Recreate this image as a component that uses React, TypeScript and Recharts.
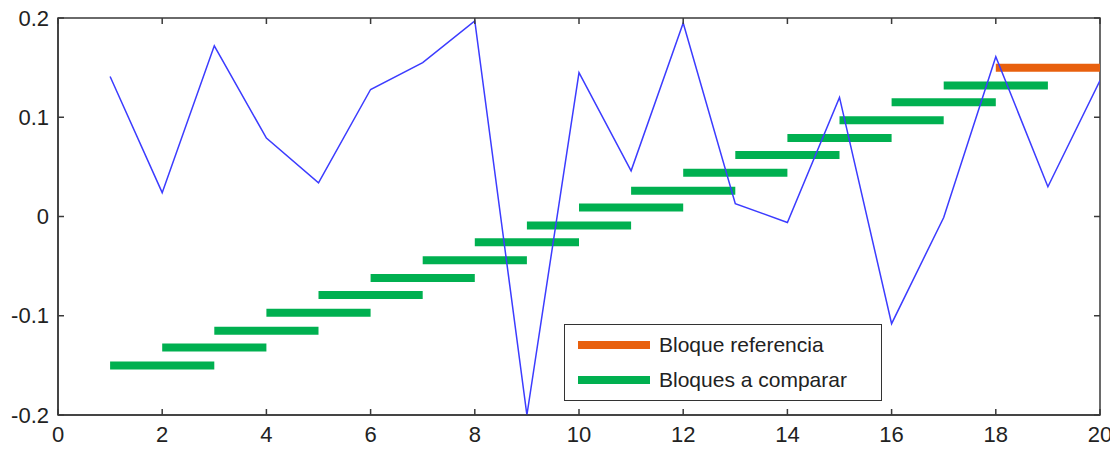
import React from "react";
import { ComposedChart, Line, XAxis, YAxis, ReferenceArea } from "recharts";

// señal comparada (x = 1..20)
const signalX = [1, 2, 3, 4, 5, 6, 7, 8, 9, 10, 11, 12, 13, 14, 15, 16, 17, 18, 19, 20];
const signalY = [
  0.141, 0.024, 0.172, 0.079, 0.034, 0.128, 0.155, 0.197, -0.2, 0.145,
  0.046, 0.195, 0.013, -0.006, 0.12, -0.108, -0.001, 0.161, 0.03, 0.137,
];

// bloques a comparar: inicio y nivel (cada bloque cubre 2 unidades)
const blockStart = [1, 2, 3, 4, 5, 6, 7, 8, 9, 10, 11, 12, 13, 14, 15, 16, 17];
const blockLevel = [
  -0.15, -0.132, -0.115, -0.097, -0.079, -0.062, -0.044, -0.026, -0.009,
  0.009, 0.026, 0.044, 0.062, 0.079, 0.097, 0.115, 0.132,
];
const blockWidth = 2;

// bloque referencia
const refStart = 18;
const refLevel = 0.15;

const xTicks = [0, 2, 4, 6, 8, 10, 12, 14, 16, 18, 20];
const yTicks = [-0.2, -0.1, 0, 0.1, 0.2];

const BLUE = "#3c3cff";
const GREEN = "#00b050";
const ORANGE = "#e8600e";
const AXIS = "#3a3a3a";
const FONT = "Liberation Sans, Arial, sans-serif";

const signal = signalX.map((x, i) => ({ x, y: signalY[i] }));
const blocks = blockStart.map((s, i) => [
  { x: s, y: blockLevel[i] },
  { x: s + blockWidth, y: blockLevel[i] },
]);
const refBlock = [
  { x: refStart, y: refLevel },
  { x: refStart + blockWidth, y: refLevel },
];

// svg starts at the page's top edge (body margin cancelled vertically)
const W = 1110;
const H = 450;
const M = { top: 18, right: 18, bottom: 0, left: 0 };
const XH = 35;
const YW = 50;
const TICK = 6;

const fmtY = (v: number) => (v === 0 ? "0" : String(v));

function BottomTick(props: any) {
  const { x, y, payload } = props;
  return (
    <g>
      <line x1={x} y1={y} x2={x} y2={y - TICK} stroke={AXIS} strokeWidth={1.5} />
      <line x1={x} y1={M.top} x2={x} y2={M.top + TICK} stroke={AXIS} strokeWidth={1.5} />
      <text x={x} y={y + 19} textAnchor="middle" dominantBaseline="central" fill="#222" fontSize={22} fontFamily={FONT}>
        {payload.value}
      </text>
    </g>
  );
}

function LeftTick(props: any) {
  const { x, y, payload } = props;
  return (
    <g>
      <line x1={x} y1={y} x2={x + TICK} y2={y} stroke={AXIS} strokeWidth={1.5} />
      <line x1={W - M.right} y1={y} x2={W - M.right - TICK} y2={y} stroke={AXIS} strokeWidth={1.5} />
      <text x={x - 9} y={y} textAnchor="end" dominantBaseline="central" fill="#222" fontSize={22} fontFamily={FONT}>
        {fmtY(payload.value)}
      </text>
    </g>
  );
}

function LegendBox() {
  const row = (color: string, label: string) => (
    <div style={{ display: "flex", alignItems: "center", height: 35 }}>
      <div style={{ width: 72, height: 8, background: color, marginLeft: 13 }} />
      <span style={{ marginLeft: 9, fontSize: 21, fontFamily: FONT, color: "#222" }}>{label}</span>
    </div>
  );
  return (
    <div
      style={{
        position: "absolute",
        left: 556,
        top: 324,
        width: 316,
        height: 73,
        border: "1.5px solid #333",
        background: "#fff",
        paddingTop: 2,
      }}
    >
      {row(ORANGE, "Bloque referencia")}
      {row(GREEN, "Bloques a comparar")}
    </div>
  );
}

export default function App() {
  return (
    <div style={{ position: "relative", width: W, height: H, marginTop: -8 }}>
      <ComposedChart width={W} height={H} margin={M}>
        <XAxis
          dataKey="x"
          type="number"
          domain={[0, 20]}
          ticks={xTicks}
          interval={0}
          allowDataOverflow
          stroke={AXIS}
          strokeWidth={1.5}
          tickLine={false}
          tickSize={0}
          tickMargin={0}
          tick={<BottomTick />}
          height={XH}
        />
        <YAxis
          type="number"
          domain={[-0.2, 0.2]}
          ticks={yTicks}
          interval={0}
          allowDataOverflow
          stroke={AXIS}
          strokeWidth={1.5}
          tickLine={false}
          tickSize={0}
          tickMargin={0}
          tick={<LeftTick />}
          width={YW}
        />
        <ReferenceArea
          x1={0}
          x2={20}
          y1={-0.2}
          y2={0.2}
          fill="none"
          stroke={AXIS}
          strokeWidth={1.5}
          ifOverflow="visible"
        />
        {blocks.map((b, i) => (
          <Line
            key={"b" + i}
            data={b}
            dataKey="y"
            stroke={GREEN}
            strokeWidth={8}
            strokeLinecap="butt"
            dot={false}
            activeDot={false}
            isAnimationActive={false}
            legendType="none"
          />
        ))}
        <Line
          data={refBlock}
          dataKey="y"
          stroke={ORANGE}
          strokeWidth={8}
          strokeLinecap="butt"
          dot={false}
          activeDot={false}
          isAnimationActive={false}
          legendType="none"
        />
        <Line
          data={signal}
          dataKey="y"
          type="linear"
          stroke={BLUE}
          strokeWidth={1.5}
          dot={false}
          activeDot={false}
          isAnimationActive={false}
          legendType="none"
        />
      </ComposedChart>
      <LegendBox />
    </div>
  );
}
